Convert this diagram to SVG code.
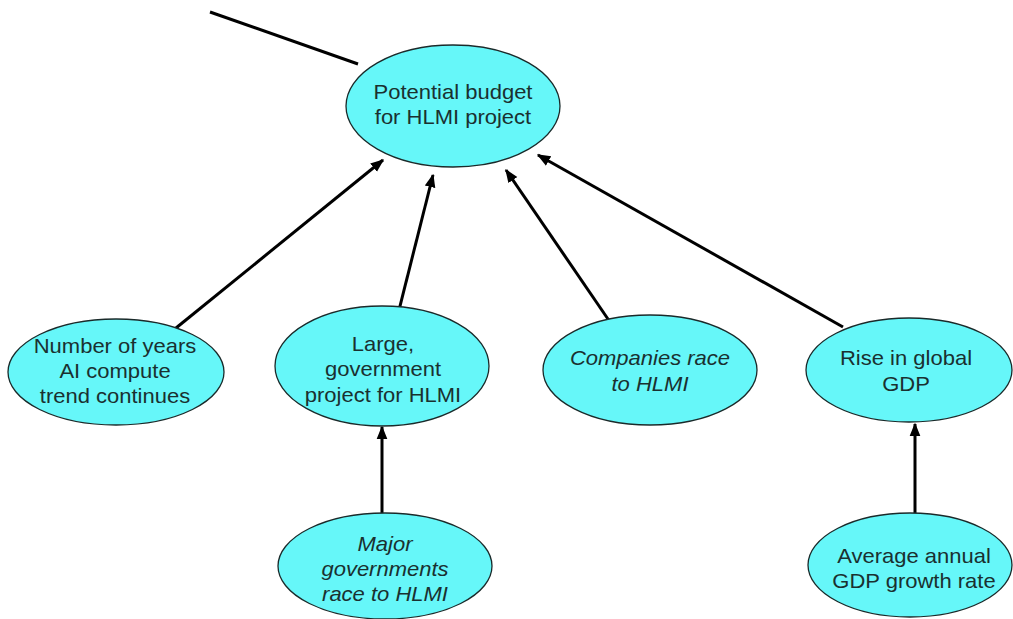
<svg xmlns="http://www.w3.org/2000/svg" width="1013" height="619" viewBox="0 0 1013 619">
<style>
.node ellipse{fill:#66f7f9;stroke:#1a2a2a;stroke-width:1.3}
.node text{font-family:"Liberation Sans",Arial,sans-serif;font-size:20px;fill:#1a3030;text-anchor:middle}
.node text.it{font-style:italic}
.edge{stroke:#000;stroke-width:3;fill:none}
</style>
<defs>
<marker id="ah" viewBox="0 0 10 10" refX="9" refY="5" markerWidth="4.5" markerHeight="4.5" orient="auto" markerUnits="strokeWidth">
<path d="M0,1 L10,5 L0,9 z" fill="#000"/>
</marker>
</defs>
<rect width="1013" height="619" fill="#fff"/>
<g id="connectors">
<line class="edge" x1="210" y1="12" x2="358" y2="64"/>
<line class="edge" x1="176" y1="328" x2="383" y2="160" marker-end="url(#ah)"/>
<line class="edge" x1="397" y1="318" x2="433" y2="175" marker-end="url(#ah)"/>
<line class="edge" x1="610" y1="322" x2="506" y2="170" marker-end="url(#ah)"/>
<line class="edge" x1="843" y1="327" x2="538" y2="155" marker-end="url(#ah)"/>
<line class="edge" x1="382" y1="513" x2="382" y2="427" marker-end="url(#ah)"/>
<line class="edge" x1="915" y1="513" x2="915" y2="424" marker-end="url(#ah)"/>
</g>
<g id="budget" class="node">
<ellipse cx="453" cy="106" rx="107" ry="61"/>
<g transform="translate(453,0) scale(1.1,1)"><text x="0" y="99">Potential budget</text><text x="0" y="124">for HLMI project</text></g>
</g>
<g id="years" class="node">
<ellipse cx="116" cy="372" rx="108" ry="53"/>
<g transform="translate(115,0) scale(1.1,1)"><text x="0" y="353">Number of years</text><text x="0" y="378">AI compute</text><text x="0" y="403">trend continues</text></g>
</g>
<g id="govproject" class="node">
<ellipse cx="382" cy="366" rx="107" ry="60"/>
<g transform="translate(383,0) scale(1.1,1)"><text x="0" y="351">Large,</text><text x="0" y="376">government</text><text x="0" y="402">project for HLMI</text></g>
</g>
<g id="companies" class="node">
<ellipse cx="650" cy="370" rx="107" ry="55"/>
<g transform="translate(650,0) scale(1.1,1)"><text class="it" x="0" y="365">Companies race</text><text class="it" x="0" y="391">to HLMI</text></g>
</g>
<g id="gdp" class="node">
<ellipse cx="909" cy="370" rx="103" ry="52"/>
<g transform="translate(906,0) scale(1.1,1)"><text x="0" y="365">Rise in global</text><text x="0" y="391">GDP</text></g>
</g>
<g id="majorgov" class="node">
<ellipse cx="385" cy="566" rx="107" ry="53"/>
<g transform="translate(385,0) scale(1.1,1)"><text class="it" x="0" y="551">Major</text><text class="it" x="0" y="576">governments</text><text class="it" x="0" y="601">race to HLMI</text></g>
</g>
<g id="growth" class="node">
<ellipse cx="910" cy="565" rx="102" ry="52"/>
<g transform="translate(914,0) scale(1.1,1)"><text x="0" y="563">Average annual</text><text x="0" y="588">GDP growth rate</text></g>
</g>
</svg>
